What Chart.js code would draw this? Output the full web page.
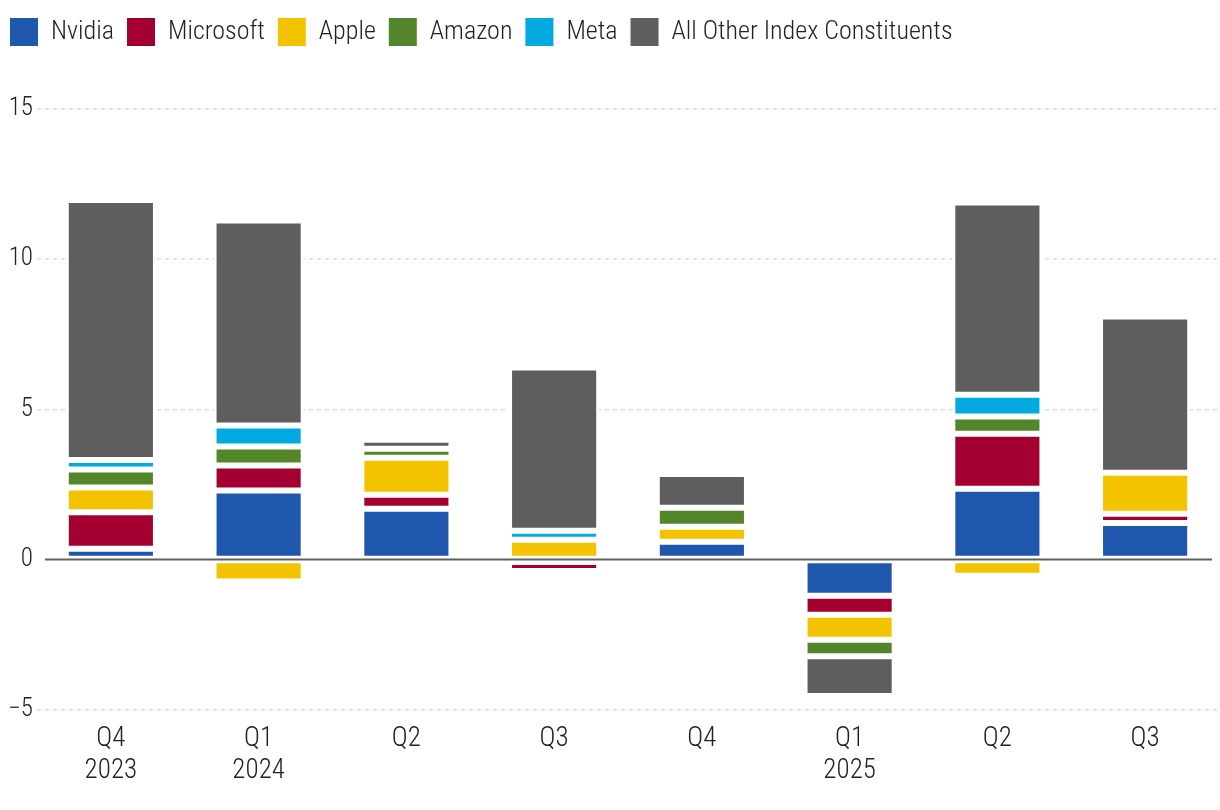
<!DOCTYPE html>
<html>
<head>
<meta charset="utf-8">
<title>Contribution to index return by quarter</title>
<script src="https://cdn.jsdelivr.net/npm/chart.js@4.4.1/dist/chart.umd.min.js"></script>
<style>
  html, body { margin: 0; padding: 0; background: #fff; }
  #wrap { width: 1220px; height: 810px; position: relative; }
</style>
</head>
<body>
<div id="wrap"><canvas id="contrib-chart"></canvas></div>
<script>
// quarters on the x axis (multi-line labels where the year changes)
const quarters = [['Q4', '2023'], ['Q1', '2024'], 'Q2', 'Q3', 'Q4', ['Q1', '2025'], 'Q2', 'Q3'];

// contribution to index return, percentage points
const nvidia    = [0.36, 2.30, 1.69, -0.08, 0.59, -1.21, 2.36, 1.22];
const microsoft = [1.21, 0.83, 0.47, -0.30, 0.00, -0.63, 1.83, 0.30];
const apple     = [0.83, -0.73, 1.23, 0.66, 0.50, -0.83, -0.54, 1.37];
const amazon    = [0.60, 0.63, 0.30, 0.00, 0.63, -0.55, 0.57, 0.00];
const meta      = [0.31, 0.70, 0.00, 0.30, 0.00, 0.00, 0.73, 0.00];
const others    = [8.66, 6.83, 0.30, 5.43, 1.13, -1.32, 6.40, 5.20];

const yTicks = [-5, 0, 5, 10, 15];

const FONT = "'Roboto Condensed', 'DejaVu Sans Condensed', sans-serif";

const series = [
    { label: 'Nvidia', data: nvidia, color: '#1f57af' },
    { label: 'Microsoft', data: microsoft, color: '#a30031' },
    { label: 'Apple', data: apple, color: '#f4c300' },
    { label: 'Amazon', data: amazon, color: '#53852a' },
    { label: 'Meta', data: meta, color: '#00a9e0' },
    { label: 'All Other Index Constituents', data: others, color: '#5e5e5e' }
];

// make room between the legend and the plot
const legendSpacer = {
    id: 'legendSpacer',
    afterInit(chart) {
        if (!chart.legend) return;
        const fit = chart.legend.fit;
        chart.legend.fit = function () {
            fit.call(this);
            this.height = 104;
        };
    }
};

// solid baseline at zero, drawn over the bars
const zeroLine = {
    id: 'zeroLine',
    afterDatasetsDraw(chart) {
        const { ctx, chartArea, scales } = chart;
        const py = scales.y.getPixelForValue(0);
        ctx.save();
        ctx.strokeStyle = '#606060';
        ctx.lineWidth = 2;
        ctx.beginPath();
        ctx.moveTo(chartArea.left + 8, py);
        ctx.lineTo(chartArea.right - 7, py);
        ctx.stroke();
        ctx.restore();
    }
};

new Chart(document.getElementById('contrib-chart'), {
    type: 'bar',
    data: {
        labels: quarters,
        datasets: series.map(s => ({
            label: s.label,
            data: s.data,
            backgroundColor: s.color,
            borderColor: '#ffffff',
            borderWidth: 3,
            borderSkipped: false,
            barPercentage: 0.61,
            categoryPercentage: 1.0
        }))
    },
    options: {
        responsive: true,
        maintainAspectRatio: false,
        animation: false,
        layout: {
            padding: { top: 5, left: -3, right: 1, bottom: 9.5 }
        },
        plugins: {
            tooltip: { enabled: false },
            legend: {
                position: 'top',
                align: 'start',
                labels: {
                    boxWidth: 28,
                    boxHeight: 28,
                    padding: 13,
                    color: '#222222',
                    font: { family: FONT, size: 26, weight: 300 },
                    generateLabels(chart) {
                        const items = Chart.defaults.plugins.legend.labels.generateLabels(chart);
                        items.forEach(it => { it.lineWidth = 0; it.strokeStyle = 'rgba(0,0,0,0)'; });
                        return items;
                    }
                }
            }
        },
        scales: {
            x: {
                stacked: true,
                grid: { display: false, drawTicks: false },
                border: { display: false },
                ticks: {
                    color: '#222222',
                    padding: 13,
                    maxRotation: 0,
                    font: { family: FONT, size: 27, weight: 300, lineHeight: 1.2 }
                }
            },
            y: {
                stacked: true,
                min: yTicks[0],
                max: yTicks[yTicks.length - 1],
                afterFit(scale) { scale.width = 40; },
                afterBuildTicks(scale) {
                    scale.ticks = yTicks.map(v => ({ value: v }));
                },
                grid: {
                    drawTicks: false,
                    lineWidth: 1.5,
                    color: ctx => (ctx.tick && ctx.tick.value === 0) ? 'rgba(0,0,0,0)' : '#dddddd'
                },
                border: { display: false, dash: [4, 4] },
                ticks: {
                    color: '#222222',
                    padding: 4,
                    font: { family: FONT, size: 25, weight: 300 },
                    callback: v => v < 0 ? '\u2212' + Math.abs(v) : String(v)
                }
            }
        }
    },
    plugins: [legendSpacer, zeroLine]
});
</script>
</body>
</html>
